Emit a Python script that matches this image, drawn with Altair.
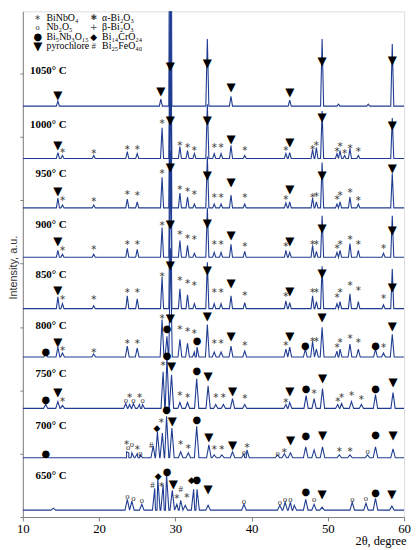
import altair as alt
import pandas as pd

# ---------------- data ----------------
TEMPS = [650, 700, 750, 800, 850, 900, 950, 1000, 1050]
BASE = [7, 60, 110, 162, 211, 263, 313, 363, 416]          # baseline level of each pattern (a.u.)
HALF = [0.3, 0.3, 0.28, 0.25, 0.2, 0.2, 0.2, 0.2, 0.2]     # half base width of the peaks (deg)

p650 = [14.0, 23.7, 24.3, 25.6, 27.3, 27.7, 28.4, 28.85, 29.6, 30.2, 30.7, 31.3, 32.4, 32.85, 34.3,
        39.0, 43.7, 44.4, 45.1, 45.6, 47.1, 48.2, 49.25, 53.2, 55.0, 56.25, 58.4]
i650 = [2, 11, 9, 6, 22, 32, 26, 36, 20, 6, 10, 5, 21, 21, 5,
        6, 5, 8, 8, 5, 11, 6, 3, 8, 7, 12, 4]

p700 = [13.0, 23.6, 23.9, 24.3, 25.0, 25.4, 27.1, 27.65, 28.3, 28.85, 29.55, 30.7, 31.7, 32.8, 34.4,
        35.1, 36.1, 37.5, 39.0, 39.4, 43.4, 44.3, 45.1, 47.1, 48.2, 49.3, 51.5, 52.9, 55.2, 56.25, 58.55]
i700 = [3, 6, 5, 5, 4, 3, 12, 26, 25, 42, 30, 6, 5, 32, 13,
        3, 3, 6, 4, 8, 3, 4, 5, 11, 8, 11, 3, 3, 3, 11, 9]

p750 = [13.0, 14.6, 15.2, 23.5, 24.0, 24.5, 25.3, 25.7, 28.4, 28.9, 29.5, 30.6, 31.6, 32.8, 34.3,
        35.3, 36.3, 37.5, 39.1, 44.5, 45.0, 47.15, 48.2, 49.3, 51.3, 51.8, 53.1, 54.4, 56.25, 58.55]
i750 = [4, 7, 3, 5, 4, 5, 4, 4, 37, 52, 34, 6, 6, 30, 23,
        4, 4, 10, 4, 4, 6, 13, 10, 20, 4, 5, 7, 4, 14, 16]

p800 = [13.0, 14.6, 15.2, 19.3, 23.7, 25.0, 28.26, 28.9, 29.35, 30.6, 31.6, 32.5, 32.85, 34.2, 35.1,
        36.0, 37.3, 39.1, 44.5, 45.0, 47.05, 48.0, 48.5, 49.25, 51.2, 51.6, 52.9, 54.0, 56.25, 57.3, 58.45]
i800 = [3, 10, 4, 3, 11, 9, 38, 21, 110, 18, 14, 5, 10, 33, 5,
        5, 11, 6, 8, 10, 8, 16, 8, 30, 6, 8, 13, 8, 8, 4, 23]

p850 = [14.6, 15.2, 19.3, 23.7, 25.0, 28.26, 29.35, 30.6, 31.6, 32.5, 34.2, 35.1, 36.0, 37.3, 39.1,
        44.5, 45.0, 48.0, 48.5, 49.25, 51.2, 51.6, 52.9, 54.0, 57.3, 58.45]
i850 = [12, 5, 3, 13, 10, 32, 160, 20, 14, 5, 47, 5, 5, 13, 6,
        8, 6, 13, 7, 43, 5, 7, 15, 7, 4, 40]

p900 = [14.6, 15.2, 19.3, 23.7, 25.0, 28.26, 29.35, 30.6, 31.6, 32.5, 34.2, 35.1, 36.0, 37.3, 39.1,
        44.5, 45.0, 48.0, 48.5, 49.25, 51.2, 51.6, 52.9, 54.0, 57.3, 58.45]
i900 = [7, 3, 3, 9, 8, 30, 200, 17, 12, 4, 50, 5, 5, 13, 6,
        7, 5, 12, 6, 42, 5, 7, 14, 7, 4, 42]

p950 = [14.6, 15.2, 19.3, 23.7, 25.0, 28.26, 29.35, 30.6, 31.6, 32.5, 34.2, 35.1, 36.0, 37.3, 39.1,
        44.5, 45.0, 48.0, 48.5, 49.25, 51.2, 51.6, 52.9, 54.0, 58.45]
i950 = [10, 3, 3, 9, 6, 31, 200, 15, 11, 4, 52, 4, 4, 13, 4,
        5, 6, 10, 6, 46, 4, 6, 11, 4, 35]

p1000 = [14.6, 15.2, 19.3, 23.7, 25.0, 28.26, 29.35, 30.6, 31.6, 32.5, 34.2, 35.1, 36.0, 37.3, 39.1,
         44.5, 45.0, 48.0, 48.5, 49.25, 51.2, 51.6, 52.2, 52.9, 54.0, 58.45]
i1000 = [6, 3, 3, 7, 5, 31, 200, 12, 8, 5, 55, 5, 5, 13, 3,
         5, 6, 9, 11, 48, 5, 8, 3, 10, 3, 41]

p1050 = [14.6, 28.1, 29.35, 34.2, 37.3, 45.0, 49.25, 51.4, 55.3, 58.45]
i1050 = [5, 7, 500, 68, 10, 6, 68, 2, 2, 63]

# phase markers: P pyrochlore, S BiNbO4, O Nb2O5, B Bi5Nb3O15, D Bi14CrO24, H Bi25FeO40
m650_c = ["O", "O", "O", "H", "D", "S", "B", "P", "S", "H", "S", "D", "B", "P",
          "O", "O", "O", "O", "B", "O", "P", "O", "O", "B", "P"]
m650_x = [23.7, 24.5, 25.6, 27.0, 27.75, 28.2, 28.9, 29.75, 30.2, 30.7, 31.5, 32.1, 32.8, 34.3,
          39.0, 43.7, 44.4, 45.1, 47.1, 48.2, 49.25, 53.2, 55.0, 56.25, 58.4]
m650_y = [21, 19, 17, 32, 42, 32, 46, 33, 20, 28, 21, 37, 37, 28,
          16, 15, 18, 18, 25, 18, 23, 18, 19, 24, 23]

m700_c = ["B", "S", "O", "O", "S", "O", "H", "D", "S", "B", "P", "S", "S", "B", "P", "S", "S", "P",
          "O", "S", "O", "S", "P", "B", "P", "S", "S", "O", "B", "P"]
m700_x = [13.0, 23.6, 23.8, 24.3, 25.0, 25.4, 26.85, 27.6, 28.15, 28.85, 29.6, 30.7, 31.7, 32.8, 34.4,
          35.1, 36.1, 37.5, 39.0, 39.4, 43.4, 44.3, 45.1, 47.1, 49.3, 51.5, 52.9, 55.2, 56.25, 58.55]
m700_y = [64, 75, 71, 74, 70, 65, 73, 90, 97, 108, 97, 75, 71, 98, 81,
          70, 70, 73, 66, 72, 65, 67, 78, 82, 83, 68, 68, 67, 83, 83]

m750_c = ["B", "P", "S", "O", "S", "O", "S", "O", "S", "B", "P", "S", "S", "B", "P", "S", "S", "P",
          "S", "S", "P", "B", "S", "P", "S", "S", "S", "S", "B", "P"]
m750_x = [13.0, 14.6, 15.2, 23.5, 24.0, 24.5, 25.3, 25.7, 28.4, 28.9, 29.5, 30.6, 31.6, 32.8, 34.3,
          35.3, 36.3, 37.5, 39.1, 44.5, 45.0, 47.15, 48.2, 49.3, 51.3, 51.8, 53.1, 54.4, 56.25, 58.55]
m750_y = [118, 127, 118, 118, 123, 118, 123, 118, 155, 163, 153, 125, 123, 148, 143,
          123, 123, 128, 122, 117, 128, 130, 127, 141, 118, 123, 125, 121, 130, 137]

m800_c = ["B", "P", "S", "S", "S", "S", "S", "B", "P", "S", "S", "S", "B", "P", "S", "S", "P", "S",
          "S", "P", "B", "S", "S", "P", "S", "S", "S", "S", "B", "S", "P"]
m800_x = [13.0, 14.6, 15.2, 19.3, 23.7, 25.0, 28.26, 28.9, 29.35, 30.6, 31.6, 32.5, 32.85, 34.2, 35.1,
          36.0, 37.3, 39.1, 44.5, 45.0, 47.05, 48.0, 48.5, 49.25, 51.2, 51.6, 52.9, 54.0, 56.25, 57.3, 58.45]
m800_y = [167, 177, 170, 168, 177, 177, 203, 190, 201, 191, 189, 187, 178, 203, 177,
          177, 183, 175, 175, 183, 173, 179, 179, 202, 173, 178, 182, 178, 173, 173, 193]

mHigh_c = ["P", "S", "S", "S", "S", "S", "P", "S", "S", "S", "P", "S", "S", "P", "S",
           "S", "P", "S", "S", "P", "S", "S", "S", "S", "S", "P"]
mHigh_x = [14.6, 15.2, 19.3, 23.7, 25.0, 28.26, 29.35, 30.6, 31.6, 32.5, 34.2, 35.1, 36.0, 37.3, 39.1,
           44.5, 45.0, 48.0, 48.5, 49.25, 51.2, 51.6, 52.9, 54.0, 57.3, 58.45]
m850_y = [230, 222, 222, 229, 229, 245, 255, 241, 238, 236, 250, 229, 229, 237, 226,
          225, 229, 229, 229, 247, 224, 229, 236, 231, 223, 233]
m900_y = [279, 271, 272, 277, 277, 297, 297, 288, 284, 282, 298, 277, 277, 285, 275,
          275, 279, 277, 277, 293, 273, 277, 282, 277, 273, 291]

m950_c = ["P", "S", "S", "S", "S", "S", "P", "S", "S", "S", "P", "S", "S", "P", "S",
          "S", "P", "S", "S", "P", "S", "S", "S", "S", "P"]
m950_x = [14.6, 15.2, 19.3, 23.7, 25.0, 28.26, 29.35, 30.6, 31.6, 32.5, 34.2, 35.1, 36.0, 37.3, 39.1,
          44.5, 45.0, 48.0, 48.5, 49.25, 51.2, 51.6, 52.9, 54.0, 58.45]
m950_y = [330, 322, 321, 328, 327, 349, 354, 333, 331, 328, 346, 325, 325, 339, 325,
          323, 332, 325, 326, 346, 323, 327, 330, 322, 353]

m1000_c = ["P", "S", "S", "S", "S", "S", "P", "S", "S", "S", "P", "S", "S", "P", "S",
           "S", "P", "S", "S", "P", "S", "S", "S", "S", "S", "P"]
m1000_x = [14.6, 15.2, 19.3, 23.7, 25.0, 28.26, 29.35, 30.6, 31.6, 32.5, 34.2, 35.1, 36.0, 37.3, 39.1,
           44.5, 45.0, 48.0, 48.5, 49.25, 51.2, 51.6, 52.2, 52.9, 54.0, 58.45]
m1000_y = [377, 371, 370, 374, 374, 400, 402, 378, 376, 373, 402, 376, 376, 383, 373,
           373, 380, 374, 378, 405, 372, 377, 370, 375, 372, 397]

m1050_c = ["P", "P", "P", "P", "P", "P", "P", "P"]
m1050_x = [14.6, 28.1, 29.35, 34.2, 37.3, 45.0, 49.25, 58.45]
m1050_y = [427, 431, 457, 460, 435, 430, 462, 463]

# legend
LEG_CODE = ["S", "O", "B", "P", "A", "Q", "D", "H"]
LEG_TEXT = ["BiNbO₄", "Nb₂O₅", "Bi₅Nb₃O₁₅", "pyrochlore",
            "α-Bi₂O₃", "β-Bi₂O₃", "Bi₁₄CrO₂₄", "Bi₂₅FeO₄₀"]
LEG_SYM_X = [11.95, 11.95, 11.95, 11.95, 19.3, 19.3, 19.3, 19.3]
LEG_TXT_X = [13.1, 13.1, 13.1, 13.1, 20.4, 20.4, 20.4, 20.4]
LEG_Y = [505, 496, 486, 477, 505, 496, 486, 477]

TEMP_LABEL_Y = [42, 92, 145, 193, 245, 296, 347, 397, 452]
X_TICKS = [10, 20, 30, 40, 50, 60]
Y_TICKS = [0, 64, 128, 192, 257, 321, 385, 449]

SERIF = "'Liberation Serif', 'Times New Roman', 'DejaVu Serif', serif"
SANS = "'Liberation Sans', Arial, 'DejaVu Sans', sans-serif"
SYM = "'DejaVu Sans', sans-serif"

# ---------------- build tables ----------------
peaks = [(p650, i650), (p700, i700), (p750, i750), (p800, i800), (p850, i850),
         (p900, i900), (p950, i950), (p1000, i1000), (p1050, i1050)]
rows = []
for t, b, w, (ps, hs) in zip(TEMPS, BASE, HALF, peaks):
    pts = [(10.0, b, 0), (60.0, b, 2)]
    for p, h in zip(ps, hs):
        pts += [(p - w, b, 0), (p, b + h, 1), (p + w, b, 2)]
    pts.sort(key=lambda q: (q[0], q[2]))
    for k, (x, y, _) in enumerate(pts):
        rows.append({"temp": t, "theta": x, "y": y, "k": k})
lines_df = pd.DataFrame(rows)

mk = []
marker_sets = [(m650_c, m650_x, m650_y), (m700_c, m700_x, m700_y), (m750_c, m750_x, m750_y),
               (m800_c, m800_x, m800_y), (mHigh_c, mHigh_x, m850_y), (mHigh_c, mHigh_x, m900_y),
               (m950_c, m950_x, m950_y), (m1000_c, m1000_x, m1000_y), (m1050_c, m1050_x, m1050_y)]
for cs, xs_, ys_ in marker_sets:
    for c, x, y in zip(cs, xs_, ys_):
        mk.append({"code": c, "theta": x, "y": y})
for c, x, y in zip(LEG_CODE, LEG_SYM_X, LEG_Y):
    mk.append({"code": c, "theta": x, "y": y})
mk_df = pd.DataFrame(mk)

leg_df = pd.DataFrame({"theta": LEG_TXT_X, "y": LEG_Y, "label": LEG_TEXT})
temp_df = pd.DataFrame({"theta": [15.75] * len(TEMPS), "y": TEMP_LABEL_Y,
                        "label": [f"{t}° C" for t in TEMPS]})

# ---------------- chart ----------------
xs = alt.Scale(domain=[10, 60], nice=False, zero=False)
ys = alt.Scale(domain=[0, 512], nice=False, zero=False)

X = alt.X("theta:Q", scale=xs, axis=alt.Axis(
    values=X_TICKS, title="2θ, degree", grid=False, tickSize=4, labelPadding=2,
    labelFont=SERIF, labelFontSize=13, labelColor="#000",
    titleFont=SERIF, titleFontSize=12.5, titleFontWeight="normal", titleColor="#000",
    titleAnchor="end", titleAlign="right", titleX=388, titleY=28, titleBaseline="alphabetic",
    domainColor="#808080", tickColor="#808080", labelFlush=False))
Y = alt.Y("y:Q", scale=ys, axis=alt.Axis(
    values=Y_TICKS, labels=False, grid=False, tickSize=3, title="Intensity, a.u.",
    titleFont=SANS, titleFontSize=11, titleFontWeight="normal", titleColor="#333",
    titleAngle=270, titleX=-9, titleY=259, titleAlign="center", titleBaseline="middle",
    domainColor="#808080", tickColor="#808080"))

lines = alt.Chart(lines_df).mark_line(clip=True, color="#1f3c91", strokeWidth=1.1).encode(
    x=X, y=Y, detail="temp:N", order="k:Q")

STY = {
    "P": ("▼", SYM, 12, "#000"),
    "S": ("∗", SYM, 8, "#444"),
    "O": ("o", SERIF, 8.5, "#333"),
    "B": ("●", SYM, 10, "#000"),
    "D": ("◆", SYM, 9, "#000"),
    "H": ("#", SERIF, 9, "#333"),
    "A": ("✱", SYM, 8, "#444"),
    "Q": ("+", SYM, 9, "#444"),
}
marks = []
for code, (g, font, size, col) in STY.items():
    marks.append(alt.Chart(mk_df).transform_filter(alt.datum.code == code).mark_text(
        text=g, font=font, fontSize=size, color=col, align="center", baseline="middle"
    ).encode(x="theta:Q", y="y:Q"))

legend_txt = alt.Chart(leg_df).mark_text(
    font=SERIF, fontSize=10, color="#000", align="left", baseline="middle"
).encode(x="theta:Q", y="y:Q", text="label:N")

temp_txt = alt.Chart(temp_df).mark_text(
    font=SERIF, fontSize=11, fontWeight="bold", color="#000", align="right",
    baseline="middle").encode(x="theta:Q", y="y:Q", text="label:N")

chart = alt.layer(lines, *marks, legend_txt, temp_txt).properties(
    width=386, height=512,
    autosize=alt.AutoSizeParams(type="none"),
    padding={"left": 15, "top": 0, "right": 7, "bottom": 30},
).configure_view(stroke=None).configure(background="white")

chart.save("out.html", embed_options={"renderer": "svg", "actions": False})
